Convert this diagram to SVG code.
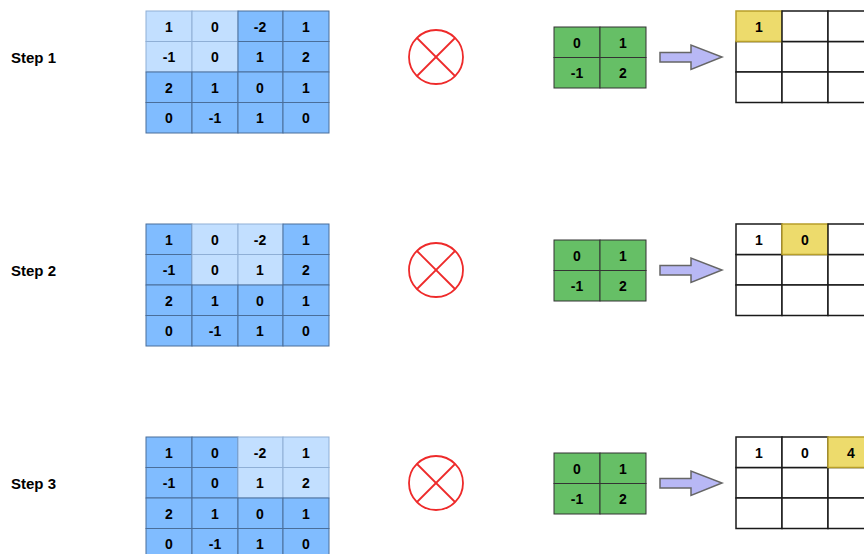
<svg xmlns="http://www.w3.org/2000/svg" width="864" height="554" viewBox="0 0 864 554">
<style>
  text { font-family: "Liberation Sans", Arial, sans-serif; font-weight: bold; font-size: 14px; fill: #000; text-anchor: middle; dominant-baseline: central; }
  .lbl { text-anchor: start; font-size: 15px; }
  .dk { fill: #80BCFF; stroke: #4A6E9A; stroke-width: 1; }
  .lt { fill: #C2DFFF; stroke: #8FAFD6; stroke-width: 1; }
  .kc { fill: #66BF66; stroke: #333; stroke-width: 1; }
  .oc { fill: #FFFFFF; stroke: #1a1a1a; stroke-width: 1.5; }
  .oy { fill: #EDDB6C; stroke: #B89F2A; stroke-width: 1.5; }
  .op { fill: none; stroke: #EE2A2A; stroke-width: 1.8; }
  .ar { fill: #B8B8F5; stroke: #666; stroke-width: 1.5; }
</style>
<defs>
  <!-- convolution operator -->
  <g id="otimes">
    <circle cx="0" cy="0" r="27" class="op"/>
    <line x1="-19" y1="-19" x2="19" y2="19" class="op"/>
    <line x1="-19" y1="19" x2="19" y2="-19" class="op"/>
  </g>
  <!-- kernel 2x2 -->
  <g id="kernel">
    <rect x="0" y="0" width="46" height="30.5" class="kc"/>
    <rect x="46" y="0" width="46" height="30.5" class="kc"/>
    <rect x="0" y="30.5" width="46" height="30.5" class="kc"/>
    <rect x="46" y="30.5" width="46" height="30.5" class="kc"/>
    <text x="23" y="15.5">0</text><text x="69" y="15.5">1</text>
    <text x="23" y="46">-1</text><text x="69" y="46">2</text>
  </g>
  <!-- block arrow -->
  <path id="arrow" class="ar" d="M660 52.5 H691 V45 L722 57 L691 69.5 V62 H660 Z"/>
  <!-- input values -->
  <g id="vals">
    <text x="169" y="26.5">1</text><text x="215" y="26.5">0</text><text x="260" y="26.5">-2</text><text x="306" y="26.5">1</text>
    <text x="169" y="57">-1</text><text x="215" y="57">0</text><text x="260" y="57">1</text><text x="306" y="57">2</text>
    <text x="169" y="87.5">2</text><text x="215" y="87.5">1</text><text x="260" y="87.5">0</text><text x="306" y="87.5">1</text>
    <text x="169" y="118">0</text><text x="215" y="118">-1</text><text x="260" y="118">1</text><text x="306" y="118">0</text>
  </g>
  <!-- empty output rows 2-3 -->
  <g id="outrows">
    <rect x="736" y="41.5" width="46" height="30.5" class="oc"/>
    <rect x="782" y="41.5" width="46" height="30.5" class="oc"/>
    <rect x="828" y="41.5" width="46" height="30.5" class="oc"/>
    <rect x="736" y="72" width="46" height="30.5" class="oc"/>
    <rect x="782" y="72" width="46" height="30.5" class="oc"/>
    <rect x="828" y="72" width="46" height="30.5" class="oc"/>
  </g>
</defs>

<!-- Step 1 -->
<g id="step1">
  <text class="lbl" x="11" y="57">Step 1</text>
  <g id="input1">
    <rect x="146" y="11" width="46" height="30.5" class="lt"/>
    <rect x="192" y="11" width="46" height="30.5" class="lt"/>
    <rect x="238" y="11" width="45" height="30.5" class="dk"/>
    <rect x="283" y="11" width="46" height="30.5" class="dk"/>
    <rect x="146" y="41.5" width="46" height="30.5" class="lt"/>
    <rect x="192" y="41.5" width="46" height="30.5" class="lt"/>
    <rect x="238" y="41.5" width="45" height="30.5" class="dk"/>
    <rect x="283" y="41.5" width="46" height="30.5" class="dk"/>
    <rect x="146" y="72" width="46" height="30.5" class="dk"/>
    <rect x="192" y="72" width="46" height="30.5" class="dk"/>
    <rect x="238" y="72" width="45" height="30.5" class="dk"/>
    <rect x="283" y="72" width="46" height="30.5" class="dk"/>
    <rect x="146" y="102.5" width="46" height="30.5" class="dk"/>
    <rect x="192" y="102.5" width="46" height="30.5" class="dk"/>
    <rect x="238" y="102.5" width="45" height="30.5" class="dk"/>
    <rect x="283" y="102.5" width="46" height="30.5" class="dk"/>
    <use href="#vals"/>
  </g>
  <use href="#otimes" x="436" y="57"/>
  <use href="#kernel" x="554" y="27"/>
  <use href="#arrow"/>
  <g id="output1">
    <use href="#outrows"/>
    <rect x="736" y="11" width="46" height="30.5" class="oy"/>
    <rect x="782" y="11" width="46" height="30.5" class="oc"/>
    <rect x="828" y="11" width="46" height="30.5" class="oc"/>
    <text x="759" y="26.5">1</text>
  </g>
</g>

<!-- Step 2 -->
<g id="step2" transform="translate(0,213)">
  <text class="lbl" x="11" y="57">Step 2</text>
  <g id="input2">
    <rect x="146" y="11" width="46" height="30.5" class="dk"/>
    <rect x="192" y="11" width="46" height="30.5" class="lt"/>
    <rect x="238" y="11" width="45" height="30.5" class="lt"/>
    <rect x="283" y="11" width="46" height="30.5" class="dk"/>
    <rect x="146" y="41.5" width="46" height="30.5" class="dk"/>
    <rect x="192" y="41.5" width="46" height="30.5" class="lt"/>
    <rect x="238" y="41.5" width="45" height="30.5" class="lt"/>
    <rect x="283" y="41.5" width="46" height="30.5" class="dk"/>
    <rect x="146" y="72" width="46" height="30.5" class="dk"/>
    <rect x="192" y="72" width="46" height="30.5" class="dk"/>
    <rect x="238" y="72" width="45" height="30.5" class="dk"/>
    <rect x="283" y="72" width="46" height="30.5" class="dk"/>
    <rect x="146" y="102.5" width="46" height="30.5" class="dk"/>
    <rect x="192" y="102.5" width="46" height="30.5" class="dk"/>
    <rect x="238" y="102.5" width="45" height="30.5" class="dk"/>
    <rect x="283" y="102.5" width="46" height="30.5" class="dk"/>
    <use href="#vals"/>
  </g>
  <use href="#otimes" x="436" y="57"/>
  <use href="#kernel" x="554" y="27"/>
  <use href="#arrow"/>
  <g id="output2">
    <use href="#outrows"/>
    <rect x="736" y="11" width="46" height="30.5" class="oc"/>
    <rect x="782" y="11" width="46" height="30.5" class="oy"/>
    <rect x="828" y="11" width="46" height="30.5" class="oc"/>
    <text x="759" y="26.5">1</text>
    <text x="805" y="26.5">0</text>
  </g>
</g>

<!-- Step 3 -->
<g id="step3" transform="translate(0,426)">
  <text class="lbl" x="11" y="57">Step 3</text>
  <g id="input3">
    <rect x="146" y="11" width="46" height="30.5" class="dk"/>
    <rect x="192" y="11" width="46" height="30.5" class="dk"/>
    <rect x="238" y="11" width="45" height="30.5" class="lt"/>
    <rect x="283" y="11" width="46" height="30.5" class="lt"/>
    <rect x="146" y="41.5" width="46" height="30.5" class="dk"/>
    <rect x="192" y="41.5" width="46" height="30.5" class="dk"/>
    <rect x="238" y="41.5" width="45" height="30.5" class="lt"/>
    <rect x="283" y="41.5" width="46" height="30.5" class="lt"/>
    <rect x="146" y="72" width="46" height="30.5" class="dk"/>
    <rect x="192" y="72" width="46" height="30.5" class="dk"/>
    <rect x="238" y="72" width="45" height="30.5" class="dk"/>
    <rect x="283" y="72" width="46" height="30.5" class="dk"/>
    <rect x="146" y="102.5" width="46" height="30.5" class="dk"/>
    <rect x="192" y="102.5" width="46" height="30.5" class="dk"/>
    <rect x="238" y="102.5" width="45" height="30.5" class="dk"/>
    <rect x="283" y="102.5" width="46" height="30.5" class="dk"/>
    <use href="#vals"/>
  </g>
  <use href="#otimes" x="436" y="57"/>
  <use href="#kernel" x="554" y="27"/>
  <use href="#arrow"/>
  <g id="output3">
    <use href="#outrows"/>
    <rect x="736" y="11" width="46" height="30.5" class="oc"/>
    <rect x="782" y="11" width="46" height="30.5" class="oc"/>
    <rect x="828" y="11" width="46" height="30.5" class="oy"/>
    <text x="759" y="26.5">1</text>
    <text x="805" y="26.5">0</text>
    <text x="851" y="26.5">4</text>
  </g>
</g>
</svg>
